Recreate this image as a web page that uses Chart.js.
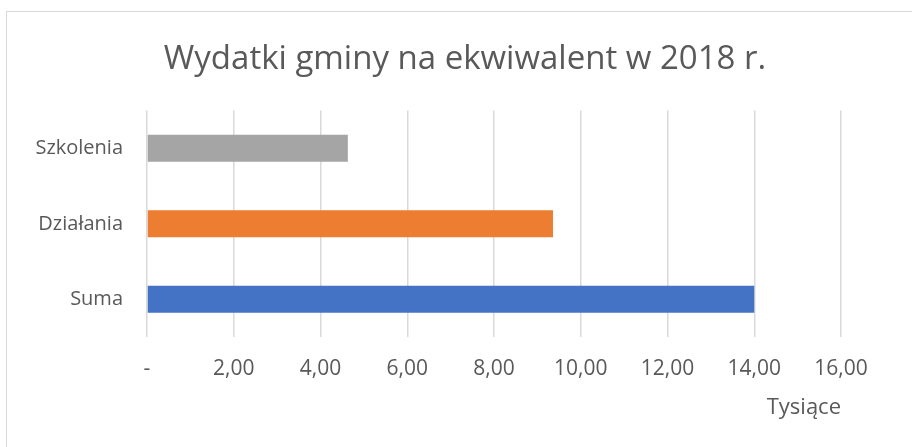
<!DOCTYPE html>
<html>
<head>
<meta charset="utf-8">
<script src="https://cdn.jsdelivr.net/npm/chart.js@4"></script>
<style>
  html, body { margin: 0; padding: 0; background: #ffffff; }
  #wrap { position: relative; width: 912px; height: 447px; overflow: hidden; }
  #frame { position: absolute; left: 6px; top: 11px; width: 920px; height: 460px; border: 1px solid #d9d9d9; box-sizing: border-box; }
  canvas { position: absolute; left: 0; top: 0; }
</style>
</head>
<body>
<div id="wrap">
  <div id="frame"></div>
  <canvas id="c" width="912" height="447"></canvas>
</div>
<script>
const chartTitle = 'Wydatki gminy na ekwiwalent w 2018 r.';
const categories = ['Szkolenia', 'Działania', 'Suma'];
const values = [4.63, 9.36, 14.0];
const barColors = ['#A5A5A5', '#ED7D31', '#4472C4'];
const tickLabels = ['-', '2,00', '4,00', '6,00', '8,00', '10,00', '12,00', '14,00', '16,00'];
const axisTitle = 'Tysiące';

const textColor = '#595959';
const fontFamily = '"Open Sans", "Noto Sans", sans-serif';

new Chart(document.getElementById('c'), {
  type: 'bar',
  data: {
    labels: categories,
    datasets: [{
      data: values,
      backgroundColor: barColors,
      borderWidth: 0,
      barPercentage: 0.357,
      categoryPercentage: 1.0
    }]
  },
  options: {
    indexAxis: 'y',
    responsive: false,
    animation: false,
    devicePixelRatio: 1,
    layout: { padding: { left: 18, right: 0, top: 0, bottom: 0 } },
    plugins: {
      legend: { display: false },
      tooltip: { enabled: false },
      title: {
        display: true,
        text: chartTitle,
        color: textColor,
        font: { family: fontFamily, size: 33, weight: 'normal' },
        padding: { top: 40, bottom: 31 }
      }
    },
    scales: {
      x: {
        min: 0,
        max: 16,
        grid: { color: '#D9D9D9', lineWidth: 1.5, drawTicks: false },
        border: { display: false },
        ticks: {
          stepSize: 2,
          color: textColor,
          padding: 19,
          maxRotation: 0,
          font: { family: fontFamily, size: 21 },
          callback: (v, i) => tickLabels[i]
        },
        title: {
          display: true,
          text: axisTitle,
          align: 'end',
          color: textColor,
          font: { family: fontFamily, size: 22 },
          padding: { top: 6, bottom: 26 }
        },
        afterFit: (s) => { s.height = 447 - 337; }
      },
      y: {
        grid: { display: false },
        border: { display: false },
        ticks: {
          color: textColor,
          padding: 16,
          font: { family: fontFamily, size: 20 }
        },
        afterFit: (s) => { s.width = 147 - 18; }
      },
      yRightGap: {
        type: 'category',
        position: 'right',
        display: true,
        grid: { display: false },
        border: { display: false },
        ticks: { display: false },
        afterFit: (s) => { s.width = 71; }
      }
    }
  }
});
</script>
</body>
</html>
